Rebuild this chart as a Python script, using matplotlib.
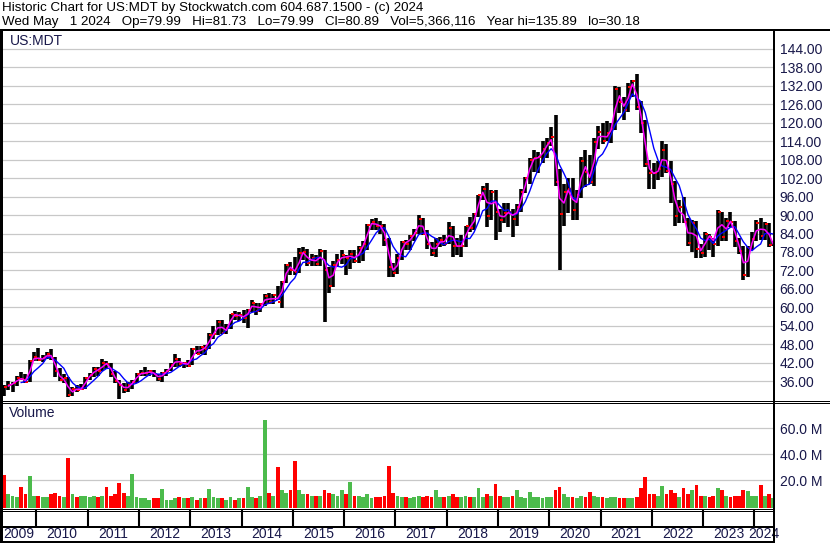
import numpy as np
import pandas as pd
import matplotlib
matplotlib.use("Agg")
import matplotlib.pyplot as plt
import matplotlib.dates as mdates
from matplotlib.lines import Line2D

plt.rcParams['font.family'] = ['Liberation Sans', 'DejaVu Sans']

# monthly bars, May 2009 .. May 2024
months = pd.date_range("2009-05-01", "2024-05-01", freq="MS")

high = [
    34.8, 36.2, 35.8, 37.8, 39.0, 38.2, 43.0, 45.5,                          # 2009
    46.7, 44.5, 45.5, 46.4, 44.0, 40.2, 38.5, 37.3, 34.0, 34.8, 35.2, 37.3,  # 2010
    38.8, 40.5, 40.5, 43.2, 42.5, 41.9, 39.3, 36.5, 35.5, 35.6, 36.4, 38.8,  # 2011
    39.5, 40.6, 39.8, 39.6, 38.5, 38.9, 40.0, 41.8, 45.0, 43.6, 42.3, 43.0,  # 2012
    46.8, 47.6, 47.3, 47.9, 51.8, 54.0, 56.0, 55.8, 54.5, 58.0, 58.8, 58.5,  # 2013
    59.0, 59.5, 62.3, 61.5, 61.5, 64.5, 64.8, 64.3, 66.8, 68.5, 74.0, 74.8,  # 2014
    76.5, 79.2, 79.5, 79.0, 77.5, 77.0, 79.0, 78.5, 73.0, 75.0, 77.5, 78.5,  # 2015
    77.0, 78.5, 78.5, 80.0, 81.5, 87.0, 88.6, 89.2, 88.0, 87.0, 82.5, 74.5,  # 2016
    77.5, 81.5, 82.0, 83.5, 85.5, 89.9, 89.0, 85.0, 81.2, 82.5, 83.0, 83.5,  # 2017
    87.8, 86.5, 82.5, 83.5, 86.5, 89.5, 90.5, 96.5, 99.5, 100.3, 98.0, 98.0,  # 2018
    92.0, 94.0, 93.8, 92.0, 93.5, 98.5, 102.5, 108.5, 111.0, 110.5, 114.0, 115.0,  # 2019
    118.5, 122.4, 105.0, 100.0, 102.0, 102.0, 98.0, 108.7, 111.0, 109.5, 115.0, 119.0,  # 2020
    120.0, 120.5, 120.0, 132.0, 131.5, 128.5, 133.0, 134.0, 135.9, 127.0, 121.0, 107.8,  # 2021
    107.0, 107.5, 114.0, 113.0, 107.5, 101.0, 95.0, 95.8, 89.0, 88.3, 88.0, 80.5,  # 2022
    84.5, 84.0, 82.5, 91.5, 91.0, 89.0, 91.0, 88.0, 82.5, 80.0, 80.0, 84.5,  # 2023
    88.5, 89.0, 87.8, 87.5, 81.7,                                            # 2024
]
low = [
    31.2, 33.0, 32.6, 34.5, 36.3, 35.3, 35.7, 42.5,
    42.6, 42.3, 43.2, 43.0, 37.5, 36.0, 35.5, 30.8, 31.2, 32.4, 33.0, 33.4,
    36.5, 37.4, 37.8, 39.2, 40.0, 37.3, 35.5, 30.2, 32.3, 32.5, 33.4, 35.4,
    37.8, 37.6, 37.7, 37.3, 36.0, 35.9, 37.8, 39.2, 40.7, 40.6, 40.2, 40.6,
    41.2, 44.8, 44.9, 44.4, 46.5, 49.8, 51.0, 51.5, 51.5, 53.0, 56.0, 55.6,
    54.8, 53.2, 58.5, 57.5, 58.5, 60.5, 61.0, 61.0, 62.5, 59.7, 67.8, 70.5,
    70.5, 71.2, 75.5, 73.5, 73.5, 73.5, 73.5, 55.3, 64.6, 66.5, 73.0, 74.0,
    70.5, 72.5, 74.5, 74.5, 75.0, 78.5, 85.0, 85.0, 84.0, 80.0, 69.8, 69.8,
    71.0, 75.5, 78.5, 78.5, 81.5, 84.0, 83.5, 79.0, 76.6, 76.4, 79.5, 80.0,
    80.5, 76.4, 77.0, 76.5, 79.5, 84.5, 85.0, 89.5, 95.0, 86.0, 88.5, 81.8,
    84.5, 87.5, 86.0, 82.8, 86.5, 91.0, 97.0, 100.0, 104.0, 103.5, 107.0, 108.5,
    112.5, 99.5, 72.0, 86.5, 90.5, 88.5, 88.3, 95.5, 99.0, 100.0, 99.5, 111.5,
    113.0, 114.0, 113.5, 117.5, 123.0, 121.0, 123.5, 128.5, 124.0, 116.5, 105.5, 98.3,
    98.5, 101.5, 102.5, 103.5, 94.0, 86.6, 87.5, 87.5, 80.0, 78.0, 76.0, 76.0,
    76.5, 78.5, 76.3, 80.0, 81.5, 81.5, 86.0, 79.5, 77.5, 68.8, 70.0, 78.5,
    81.5, 81.8, 82.0, 79.5, 80.0,
]
close = [
    34.0, 34.9, 35.3, 36.9, 36.8, 35.7, 42.6, 44.0,
    43.0, 43.4, 45.0, 43.7, 39.2, 36.3, 36.9, 31.5, 33.6, 33.2, 33.6, 37.1,
    37.9, 39.9, 39.4, 41.8, 41.7, 38.5, 36.0, 34.8, 33.2, 34.7, 35.9, 38.2,
    38.6, 38.7, 39.2, 38.2, 36.8, 38.7, 39.4, 41.3, 43.1, 41.6, 42.0, 41.0,
    46.6, 45.0, 47.0, 46.6, 51.0, 51.5, 55.2, 51.8, 53.3, 58.0, 57.3, 57.4,
    56.5, 59.2, 61.5, 58.8, 61.0, 63.7, 61.7, 63.9, 61.9, 68.2, 73.9, 72.2,
    71.4, 77.6, 78.0, 74.5, 76.2, 74.1, 78.4, 72.3, 66.9, 73.9, 75.3, 76.9,
    75.9, 77.3, 75.0, 79.2, 80.5, 86.8, 87.6, 86.5, 86.4, 82.0, 73.0, 71.2,
    76.0, 81.4, 80.6, 83.1, 84.3, 88.7, 84.0, 80.7, 77.8, 80.5, 82.0, 80.7,
    85.9, 79.9, 79.8, 80.1, 86.3, 85.7, 90.2, 96.4, 98.4, 89.8, 97.5, 91.0,
    88.4, 90.5, 91.1, 88.8, 92.6, 97.4, 101.9, 107.9, 108.6, 108.7, 111.4, 113.5,
    115.5, 100.7, 90.2, 97.6, 98.6, 91.7, 96.5, 107.5, 103.9, 100.6, 113.7, 117.1,
    114.0, 116.8, 118.1, 130.9, 126.6, 124.1, 131.6, 133.5, 125.0, 119.9, 106.7, 103.5,
    103.5, 105.0, 111.0, 104.4, 100.1, 89.8, 92.5, 87.6, 80.8, 87.3, 79.1, 77.7,
    83.7, 82.8, 80.6, 90.9, 82.8, 88.1, 87.8, 81.5, 78.4, 70.6, 79.3, 82.3,
    87.5, 83.3, 87.2, 80.2, 80.9,
]
# weekly volume level for each month, millions
volume_m = [
    24, 9, 8, 7, 15, 9, 23, 8,
    8, 7, 7, 9, 10, 8, 7, 37, 9, 7, 8, 8,
    7, 8, 7, 8, 14.6, 8, 9, 17.7, 10, 8, 25, 7,
    6, 6, 5, 6, 6, 13, 5, 5, 6, 7, 6, 6,
    7, 5, 6, 6, 13, 7, 6, 6, 5, 7, 5, 6,
    6, 15, 7, 6, 8, 66, 10, 8, 30, 12, 10, 12,
    35, 12, 9, 9, 8, 8, 8, 12.5, 10, 9, 8, 12.5,
    9, 18.7, 8, 8, 7, 9, 6, 7, 7, 8, 31, 10,
    8, 7, 7, 6, 7, 8, 7, 8, 7, 12.3, 7, 7,
    8, 9, 7, 7, 8, 7, 7, 14, 7, 9, 8, 17,
    8, 7, 7, 8, 12.3, 7, 6, 10.8, 7, 7, 6, 7,
    7, 12, 15, 9, 7, 7, 6, 8, 7, 10.8, 8, 7,
    7, 6, 7, 7, 6, 6, 6, 6, 7, 13.8, 22, 9,
    9, 8, 15.4, 9, 12.5, 10, 7, 14, 9, 12.5, 16, 8,
    8, 7, 8, 13.8, 12, 8, 7, 8, 8, 12.3, 11.6, 8,
    8, 16, 8, 9, 6,
]

years = list(range(2009, 2025))
price_ticks = list(range(36, 145, 6))
vol_ticks = [20, 40, 60]
header1 = "Historic Chart for US:MDT by Stockwatch.com 604.687.1500 - (c) 2024"
header2 = ("Wed May   1 2024   Op=79.99   Hi=81.73   Lo=79.99   Cl=80.89   "
           "Vol=5,366,116   Year hi=135.89   lo=30.18")

W, H = 830, 543
GRID = '#c8c8c8'
TXT = '#18184a'
fig = plt.figure(figsize=(W / 100, H / 100), dpi=100)


def box(top, bottom, left=2, right=774):
    return [left / W, 1 - bottom / H, (right - left) / W, (bottom - top) / H]


def hline(y, x0=0, x1=W, px=1):
    fig.add_artist(Line2D([x0 / W, x1 / W], [1 - y / H, 1 - y / H],
                          transform=fig.transFigure, color='black', lw=px * 0.72))


def vline(x, y0, y1, px=1):
    fig.add_artist(Line2D([x / W, x / W], [1 - y0 / H, 1 - y1 / H],
                          transform=fig.transFigure, color='black', lw=px * 0.72))


ax = fig.add_axes(box(31, 400))
axv = fig.add_axes(box(403, 508), sharex=ax)
axb = fig.add_axes(box(510, 542), sharex=ax)

x = mdates.date2num(months + pd.Timedelta(days=14))
year_starts = mdates.date2num([pd.Timestamp(f"{y}-01-01") for y in years[1:]])
x0 = mdates.date2num(pd.Timestamp("2009-05-01"))
x1 = mdates.date2num(pd.Timestamp("2024-05-20"))

# price panel
s = pd.Series(close)
ax.vlines(x, low, high, color='black', lw=2.6, zorder=3)
ax.plot(x, close, ls='none', marker=1, color='red', ms=2.5, mew=1.4, zorder=4)
ax.plot(x, s.rolling(5).mean(), color='#0000ff', lw=1.0, zorder=5)
ax.plot(x, s.rolling(2).mean(), color='#ff00ff', lw=1.1, zorder=6)
ax.set_ylim(29.9, 149.8)
ax.set_xlim(x0, x1)
ax.set_yticks(price_ticks)
ax.set_yticklabels([f"{v:.2f}" for v in price_ticks])
ax.set_xticks(year_starts)
ax.grid(True, color=GRID, lw=0.9, zorder=0)
ax.yaxis.tick_right()
ax.tick_params(axis='y', length=0, pad=4, labelsize=10, labelcolor=TXT)
ax.tick_params(axis='x', length=0, labelbottom=False)

# volume panel
vol = np.array(volume_m)
up = np.diff(close, prepend=close[0]) > 0
colors = np.where(up, '#4cbb4c', '#ff0000')
vbase = -1.5
axv.bar(x, vol - vbase, bottom=vbase, width=27, color=colors, zorder=3)
axv.set_ylim(vbase, 79.3)
axv.set_yticks(vol_ticks)
axv.set_yticklabels([f"{v:.1f} M" for v in vol_ticks])
axv.grid(True, color=GRID, lw=0.9, zorder=0)
axv.yaxis.tick_right()
axv.tick_params(axis='y', length=0, pad=4, labelsize=10, labelcolor=TXT)
axv.tick_params(axis='x', length=0, labelbottom=False)

# year band
axb.set_ylim(0, 1)
axb.vlines(year_starts, 0.47, 1, color='black', lw=1.5)
bounds = [x0] + list(year_starts) + [x1]
for i, yr in enumerate(years):
    axb.text((bounds[i] + bounds[i + 1]) / 2, 0.24, str(yr), ha='center',
             va='center', fontsize=10, color=TXT)
axb.set_xticks([])
axb.set_yticks([])

for a in (ax, axv, axb):
    for sp in a.spines.values():
        sp.set_visible(False)

# frame lines
hline(30, px=2)
hline(400.5)
hline(402.5)
hline(508.5, 0, 774)
hline(510.5, 0, 774)
hline(527, 0, 774, px=2)
hline(541.5, 0, 774, px=2)
vline(1, 30, 543, px=3)
vline(774, 30, 543, px=2)

# texts
fig.text(2 / W, 1 - 8 / H, header1, fontsize=9.6, va='center', ha='left')
fig.text(2 / W, 1 - 22.5 / H, header2, fontsize=9.6, va='center', ha='left')
fig.text(10 / W, 1 - 41 / H, "US:MDT", fontsize=10, va='center', ha='left', color=TXT)
fig.text(9 / W, 1 - 413 / H, "Volume", fontsize=10, va='center', ha='left', color=TXT)

fig.savefig("out.png", dpi=100)
